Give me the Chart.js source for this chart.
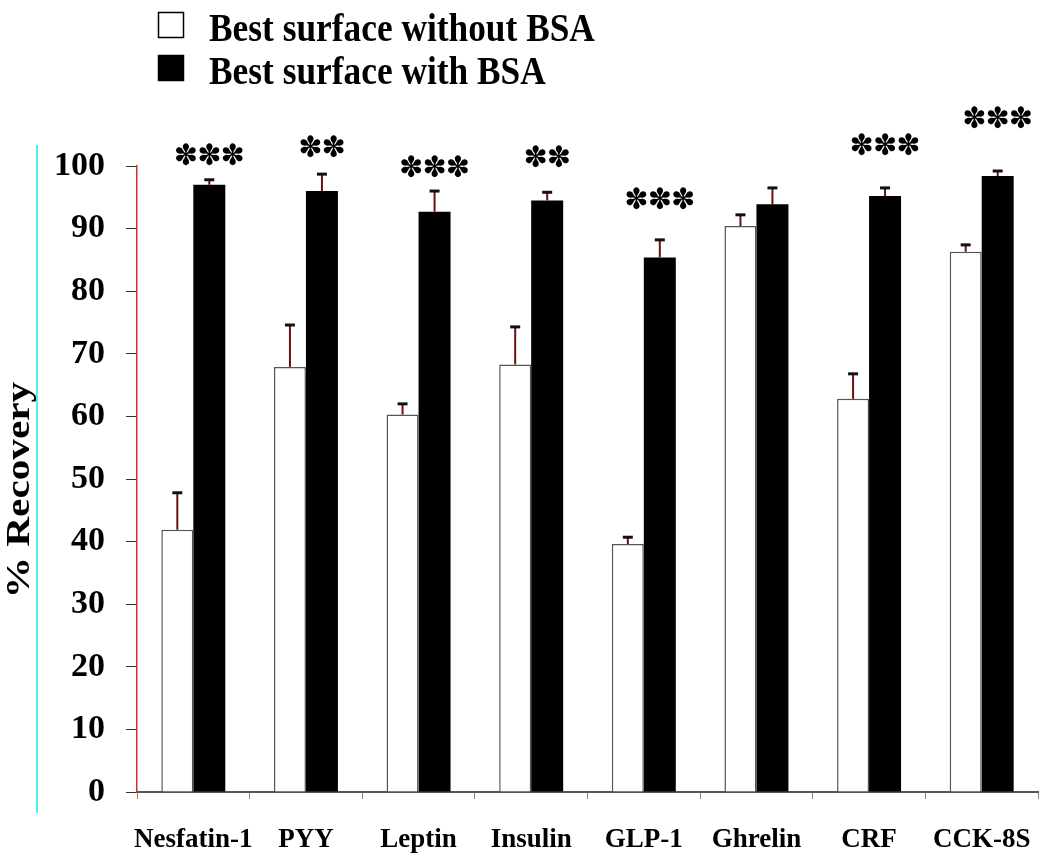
<!DOCTYPE html>
<html>
<head>
<meta charset="utf-8">
<script src="https://cdn.jsdelivr.net/npm/chart.js@4.4.1/dist/chart.umd.min.js"></script>
<style>
  html, body { margin: 0; padding: 0; background: #fff; }
  #wrap { width: 1050px; height: 863px; position: relative; }
</style>
</head>
<body>
<div id="wrap"><canvas id="myChart"></canvas></div>
<script>
// data
const peptides = ['Nesfatin-1', 'PYY', 'Leptin', 'Insulin', 'GLP-1', 'Ghrelin', 'CRF', 'CCK-8S'];
const withoutBSA = [41.9, 67.9, 60.3, 68.3, 39.6, 90.4, 62.8, 86.3];
const withoutBSAsem = [5.9, 6.7, 1.7, 6.0, 1.1, 1.8, 4.0, 1.1];
const withBSA = [97.0, 96.0, 92.7, 94.5, 85.4, 93.9, 95.2, 98.4];
const withBSAsem = [0.8, 2.7, 3.3, 1.3, 2.8, 2.6, 1.3, 0.8];
const stars = ['***', '**', '***', '**', '***', '', '***', '***'];
const starLevel = [101.3, 102.6, 99.4, 101.0, 94.3, 0, 102.9, 107.3];
const yTicks = [0, 10, 20, 30, 40, 50, 60, 70, 80, 90, 100];
const yTitle = '% Recovery';

const serif = "'Liberation Serif', 'Times New Roman', serif";

// error bars (upper half only)
const errorBars = {
  id: 'errorBars',
  afterDatasetsDraw(chart) {
    const ctx = chart.ctx;
    const y = chart.scales.y;
    chart.data.datasets.forEach((ds, di) => {
      const meta = chart.getDatasetMeta(di);
      meta.data.forEach((bar, i) => {
        const top = y.getPixelForValue(ds.data[i] + ds.sem[i]);
        ctx.save();
        ctx.strokeStyle = '#6a1010';
        ctx.lineWidth = 2;
        ctx.beginPath();
        ctx.moveTo(bar.x, bar.y);
        ctx.lineTo(bar.x, top);
        ctx.stroke();
        ctx.strokeStyle = '#111';
        ctx.lineWidth = 3;
        ctx.beginPath();
        ctx.moveTo(bar.x - 5, top);
        ctx.lineTo(bar.x + 5, top);
        ctx.stroke();
        ctx.restore();
      });
    });
  }
};

// significance stars above the BSA bars
const sigStars = {
  id: 'sigStars',
  afterDraw(chart) {
    const ctx = chart.ctx;
    const meta = chart.getDatasetMeta(1);
    ctx.save();
    ctx.fillStyle = '#000';
    ctx.font = "29px 'DejaVu Sans'";
    ctx.textAlign = 'center';
    ctx.textBaseline = 'middle';
    stars.forEach((s, i) => {
      if (!s) return;
      const cx = meta.data[i].x;
      const cy = chart.scales.y.getPixelForValue(starLevel[i]);
      const n = s.length;
      for (let k = 0; k < n; k++) {
        ctx.fillText('\u273D', cx + (k - (n - 1) / 2) * 23.3, cy);
      }
    });
    ctx.restore();
  }
};

// legend as a list at the top left, y title, stray cyan rule
const extras = {
  id: 'extras',
  afterDraw(chart) {
    const ctx = chart.ctx;
    ctx.save();
    chart.data.datasets.forEach((ds, i) => {
      const top = 12 + i * 43;
      ctx.fillStyle = ds.backgroundColor;
      ctx.fillRect(158, top, 26, 26);
      ctx.strokeStyle = '#000';
      ctx.lineWidth = 1.5;
      ctx.strokeRect(158.5, top + 0.5, 25, 25);
      ctx.save();
      ctx.translate(209, top + 29);
      ctx.scale(1.01, 1.15);
      ctx.fillStyle = '#000';
      ctx.font = 'bold 35px ' + serif;
      ctx.textBaseline = 'alphabetic';
      ctx.fillText(ds.label, 0, 0);
      ctx.restore();
    });

    ctx.save();
    ctx.translate(20, 490);
    ctx.rotate(-Math.PI / 2);
    ctx.scale(1.25, 1);
    ctx.fillStyle = '#000';
    ctx.font = 'bold 33px ' + serif;
    ctx.textAlign = 'center';
    ctx.textBaseline = 'middle';
    ctx.fillText(yTitle, 0, 0);
    ctx.restore();

    ctx.strokeStyle = '#4cf2f2';
    ctx.lineWidth = 2;
    ctx.beginPath();
    ctx.moveTo(37, 145);
    ctx.lineTo(37, 813);
    ctx.stroke();
    ctx.restore();
  }
};

const chart = new Chart('myChart', {
  type: 'bar',
  data: {
    labels: peptides,
    datasets: [{
      label: 'Best surface without BSA',
      data: withoutBSA,
      sem: withoutBSAsem,
      backgroundColor: '#ffffff',
      borderColor: '#555555',
      borderWidth: 1.5,
      borderSkipped: 'bottom'
    }, {
      label: 'Best surface with BSA',
      data: withBSA,
      sem: withBSAsem,
      backgroundColor: '#000000',
      borderColor: '#000000',
      borderWidth: 0
    }]
  },
  options: {
    responsive: true,
    maintainAspectRatio: false,
    animation: false,
    barPercentage: 1,
    categoryPercentage: 0.568,
    layout: {
      padding: { top: 166, right: 12, bottom: -18.4, left: 33 }
    },
    plugins: {
      legend: { display: false },
      tooltip: { enabled: false }
    },
    scales: {
      x: {
        afterFit(axis) {
          axis.paddingRight = 0;
        },
        grid: {
          drawOnChartArea: false,
          tickLength: 7,
          color: '#888'
        },
        border: { color: '#555', width: 2 },
        ticks: {
          color: '#000',
          padding: 25,
          maxRotation: 0,
          minRotation: 0,
          autoSkip: false,
          font: { family: serif, size: 27, weight: 'bold' }
        }
      },
      y: {
        min: 0,
        max: 100,
        afterBuildTicks(axis) {
          axis.ticks = yTicks.map(v => ({ value: v }));
        },
        grid: {
          drawOnChartArea: false,
          tickLength: 11,
          color: '#333'
        },
        border: { color: '#cc3333', width: 1.5 },
        ticks: {
          color: '#000',
          padding: 21,
          font: { family: serif, size: 34, weight: 'bold' }
        }
      }
    }
  },
  plugins: [errorBars, sigStars, extras]
});
</script>
</body>
</html>
